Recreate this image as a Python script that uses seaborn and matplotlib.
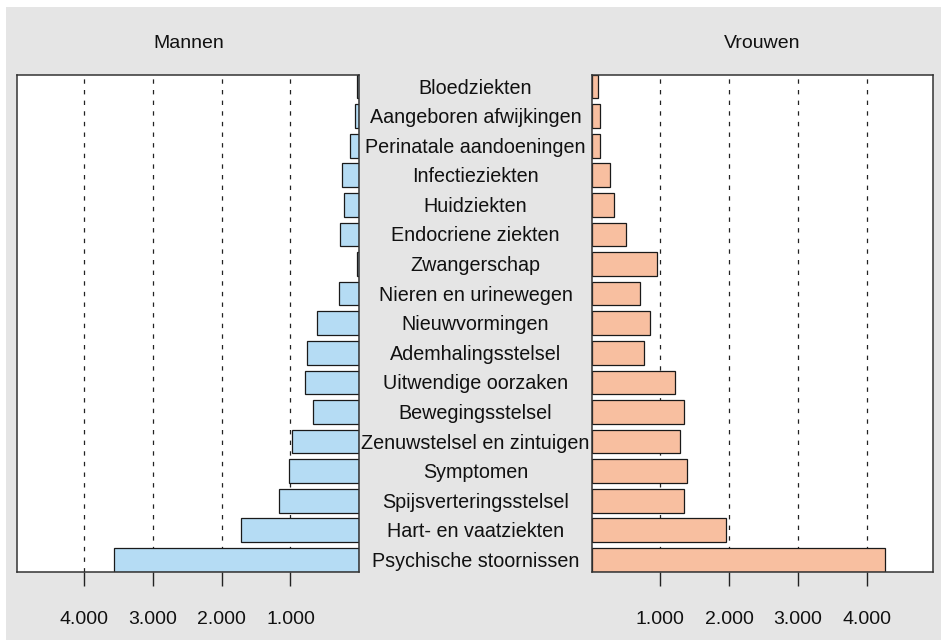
import matplotlib
matplotlib.use("Agg")
import matplotlib.pyplot as plt
import matplotlib.patches as mpatches
from matplotlib.transforms import blended_transform_factory
import seaborn as sns
import pandas as pd

categories = ["Bloedziekten", "Aangeboren afwijkingen", "Perinatale aandoeningen",
              "Infectieziekten", "Huidziekten", "Endocriene ziekten", "Zwangerschap",
              "Nieren en urinewegen", "Nieuwvormingen", "Ademhalingsstelsel",
              "Uitwendige oorzaken", "Bewegingsstelsel", "Zenuwstelsel en zintuigen",
              "Symptomen", "Spijsverteringsstelsel", "Hart- en vaatziekten",
              "Psychische stoornissen"]
mannen = [38, 67, 140, 247, 227, 281, 35, 295, 615, 756, 794, 677, 974, 1017, 1163, 1719, 3561]
vrouwen = [92, 116, 121, 271, 329, 494, 945, 702, 843, 756, 1206, 1337, 1288, 1390, 1342, 1957, 4268]
tick_values = [1000, 2000, 3000, 4000]
tick_labels = ["1.000", "2.000", "3.000", "4.000"]
panel_titles = ["Mannen", "Vrouwen"]

plt.rcParams['font.family'] = ['Liberation Sans', 'DejaVu Sans']

W, H = 941, 640
fig = plt.figure(figsize=(W / 100, H / 100), dpi=100, facecolor="white")
fig.patches.append(mpatches.Rectangle((6 / W, 0), 1 - 6 / W, 1 - 7 / H,
                                      transform=fig.transFigure, facecolor="#e5e5e5",
                                      edgecolor="none", zorder=-10))

bottom = 1 - 571.7 / H
height = (571.7 - 74.7) / H
axL = fig.add_axes([17.3 / W, bottom, (359.3 - 17.3) / W, height])
axR = fig.add_axes([591.7 / W, bottom, (933.3 - 591.7) / W, height])

df = pd.DataFrame({"cat": categories, "Mannen": mannen, "Vrouwen": vrouwen})
colors = {"Mannen": "#b5dcf4", "Vrouwen": "#f8bfa0"}

for ax, col in [(axL, panel_titles[0]), (axR, panel_titles[1])]:
    ax.set_facecolor("white")
    for v in tick_values:
        ax.axvline(v, color="#222222", lw=0.9, ls=(0, (3.5, 5)), zorder=0.5)
    sns.barplot(data=df, x=col, y="cat", orient="h", color=colors[col],
                edgecolor="#1a1a1a", linewidth=0.9, width=0.8, saturation=1,
                ax=ax, zorder=2)
    ax.set_xlim(0, 4970)
    ax.set_ylim(len(categories) - 0.6, -0.4)
    ax.set_yticks([])
    ax.set_xlabel("")
    ax.set_ylabel("")
    ax.set_xticks(tick_values)
    ax.set_xticklabels(tick_labels, fontsize=14)
    ax.tick_params(axis="x", direction="out", length=10, width=1, pad=18,
                   color="#222222", labelcolor="#111111")
    for s in ax.spines.values():
        s.set_visible(True)
        s.set_color("#333333")
        s.set_linewidth(1.1)
    ax.set_title(col, fontsize=14, pad=19.5, color="#111111")

axL.invert_xaxis()

trans = blended_transform_factory(fig.transFigure, axL.transData)
for i, c in enumerate(categories):
    axL.text(475.5 / W, i + 0.05, c, transform=trans, ha="center", va="center",
             fontsize=14.2, color="#111111", clip_on=False)

fig.savefig("out.png", dpi=100, facecolor=fig.get_facecolor())
